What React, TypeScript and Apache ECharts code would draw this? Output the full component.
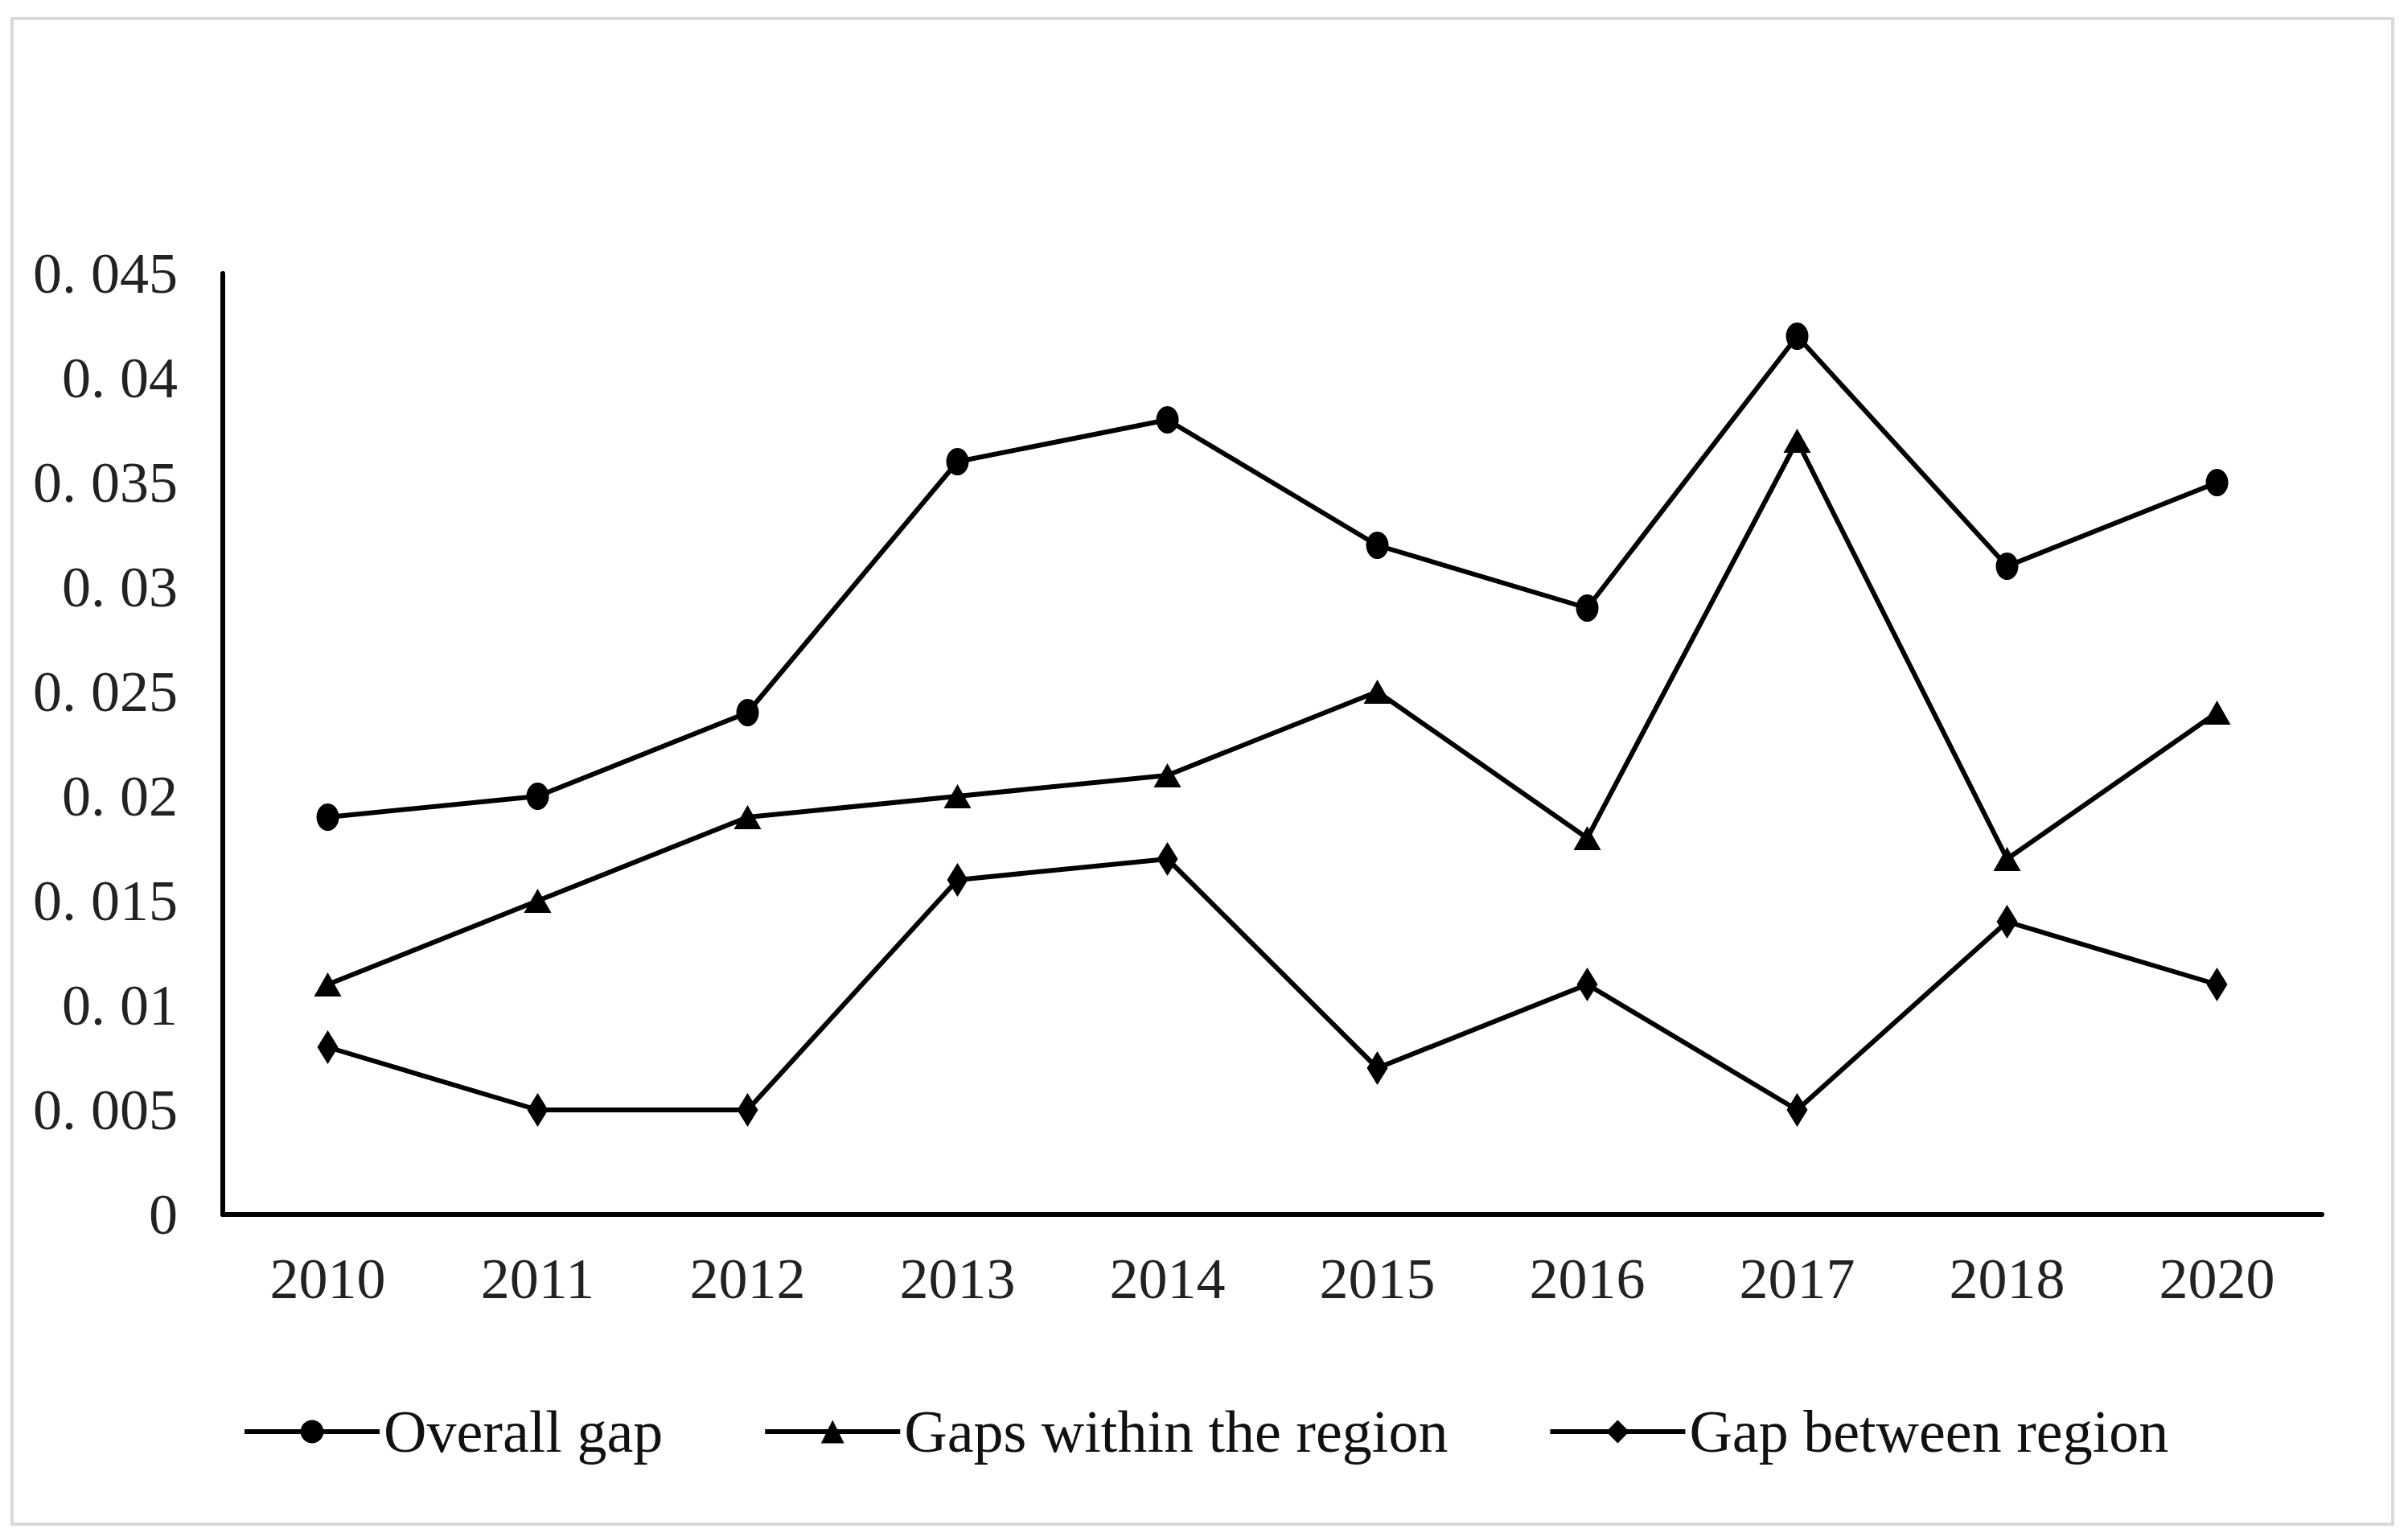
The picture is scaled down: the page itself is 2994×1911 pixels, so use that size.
import React, { useEffect, useRef } from "react";
import * as echarts from "echarts";

const years = ["2010", "2011", "2012", "2013", "2014", "2015", "2016", "2017", "2018", "2020"];
const overallGap = [0.019, 0.020, 0.024, 0.036, 0.038, 0.032, 0.029, 0.042, 0.031, 0.035];
const withinRegion = [0.011, 0.015, 0.019, 0.020, 0.021, 0.025, 0.018, 0.037, 0.017, 0.024];
const betweenRegion = [0.008, 0.005, 0.005, 0.016, 0.017, 0.007, 0.011, 0.005, 0.014, 0.011];
const seriesNames = ["Overall gap", "Gaps within the region", "Gap between region"];

const FONT = "'Liberation Serif', 'DejaVu Serif', serif";

export default function App() {
  const ref = useRef<HTMLDivElement>(null);
  useEffect(() => {
    if (!ref.current) return;
    const chart = echarts.init(ref.current, undefined, { renderer: "svg" });
    const lineStyle = { color: "#000", width: 6 };
    chart.setOption({
      animation: false,
      backgroundColor: "#fff",
      textStyle: { fontFamily: FONT },
      graphic: [
        {
          type: "rect",
          shape: { x: 15, y: 23, width: 2960, height: 1872 },
          style: { fill: "none", stroke: "#d9d9d9", lineWidth: 4 },
          silent: true,
        },
      ],
      grid: { left: 277, top: 340, right: 107, bottom: 401, containLabel: false },
      legend: {
        left: 296,
        top: 1738,
        itemWidth: 168,
        itemHeight: 36,
        itemGap: 124,
        lineStyle: { width: 6, color: "#000" },
        textStyle: { fontFamily: FONT, fontSize: 74, color: "#111", padding: [0, 0, 0, 0] },
        data: seriesNames,
      },
      xAxis: {
        type: "category",
        data: years,
        boundaryGap: true,
        axisLine: { lineStyle: { color: "#000", width: 6 } },
        axisTick: { show: false },
        axisLabel: { fontFamily: FONT, fontSize: 72, color: "#222", margin: 44 },
        splitLine: { show: false },
      },
      yAxis: {
        type: "value",
        min: 0,
        max: 0.045,
        interval: 0.005,
        axisLine: { show: true, lineStyle: { color: "#000", width: 6 } },
        axisTick: { show: false },
        splitLine: { show: false },
        axisLabel: {
          fontFamily: FONT,
          fontSize: 72,
          color: "#222",
          margin: 56,
          formatter: (v: number) => {
            if (v === 0) return "0";
            const s = String(Number(v.toFixed(3)));
            return s.replace(".", ". ");
          },
        },
      },
      series: [
        {
          name: seriesNames[0],
          type: "line",
          data: overallGap,
          symbol: "circle",
          symbolSize: [28, 34],
          itemStyle: { color: "#000" },
          lineStyle,
        },
        {
          name: seriesNames[1],
          type: "line",
          data: withinRegion,
          symbol: "triangle",
          symbolSize: [34, 30],
          itemStyle: { color: "#000" },
          lineStyle,
        },
        {
          name: seriesNames[2],
          type: "line",
          data: betweenRegion,
          symbol: "diamond",
          symbolSize: [26, 42],
          itemStyle: { color: "#000" },
          lineStyle,
        },
      ],
    });
    return () => chart.dispose();
  }, []);
  return (
    <div
      ref={ref}
      style={{ position: "fixed", left: 0, top: 0, width: 2994, height: 1911, background: "#fff" }}
    />
  );
}
